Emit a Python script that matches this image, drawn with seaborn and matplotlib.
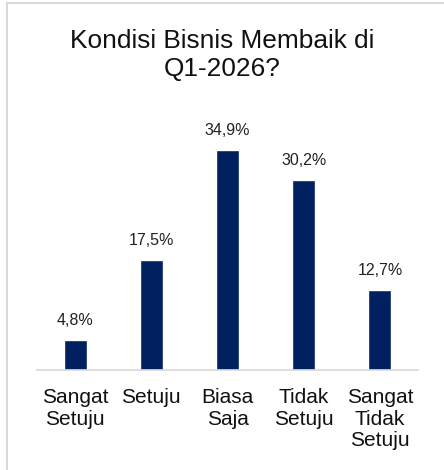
import matplotlib
matplotlib.use("Agg")
import matplotlib.pyplot as plt
import seaborn as sns
import pandas as pd
from matplotlib.lines import Line2D

categories = ["Sangat\nSetuju", "Setuju", "Biasa\nSaja", "Tidak\nSetuju", "Sangat\nTidak\nSetuju"]
values = [4.8, 17.5, 34.9, 30.2, 12.7]
labels = ["4,8%", "17,5%", "34,9%", "30,2%", "12,7%"]
title = "Kondisi Bisnis Membaik di\nQ1-2026?"

sns.set_theme(style="white")
plt.rcParams['font.family'] = ['Liberation Sans', 'DejaVu Sans']

df = pd.DataFrame({"kategori": categories, "nilai": values})

fig = plt.figure(figsize=(4.44, 4.70), dpi=100)
ax = fig.add_axes([37 / 444, 1 - 370 / 470, 381 / 444, 252 / 470])

sns.barplot(data=df, x="kategori", y="nilai", color="#002060",
            width=0.30, saturation=1, ax=ax)

ax.set_ylim(0, 40)
ax.set_xlim(-0.5, 4.5)

for i, (v, lab) in enumerate(zip(values, labels)):
    ax.annotate(lab, (i, v), xytext=(0, 8.5), textcoords="offset points",
                ha="center", va="bottom", fontsize=11.5, color="#222222")

sns.despine(ax=ax, left=True, top=True, right=True)
ax.spines["bottom"].set_color("#d9d9d9")
ax.spines["bottom"].set_linewidth(1.2)
ax.set_yticks([])
ax.set_xlabel("")
ax.set_ylabel("")
ax.tick_params(axis="x", length=0, pad=13, labelsize=15, colors="#111111")
for t in ax.get_xticklabels():
    t.set_linespacing(1.18)
    t.set_verticalalignment("top")

fig.text(0.5, 1 - 29 / 470, title, ha="center", va="top", fontsize=18.9,
         linespacing=1.2, color="#111111")

# frame around the chart area
fig.add_artist(Line2D([7 / 444, 1.0], [1 - 3 / 470, 1 - 3 / 470],
                      color="#d9d9d9", linewidth=1.5))
fig.add_artist(Line2D([7 / 444, 7 / 444], [0, 1 - 3 / 470],
                      color="#d9d9d9", linewidth=1.5))

fig.savefig("out.png", dpi=100)
